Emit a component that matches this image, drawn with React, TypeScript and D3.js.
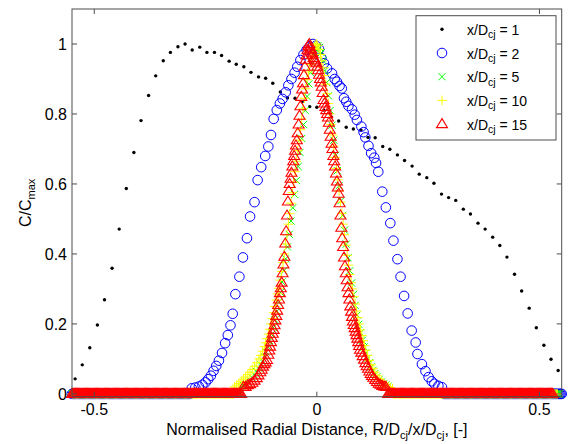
import { useMemo } from "react";
import * as d3 from "d3";

const width = 570;
const height = 444;
const M = { left: 72, top: 9, right: 8.3, bottom: 47.3 };
const FONT = "'Liberation Sans', Arial, Helvetica, sans-serif";

const stations = [1, 2, 5, 10, 15];
const colors = ["#000000", "#0000ff", "#00ff00", "#ffff00", "#ff0000"];
const xTicks = [-0.5, 0, 0.5];
const yTicks = [0, 0.2, 0.4, 0.6, 0.8, 1];

// x/Dcj = 1
const xd1: [number, number][] = [
  [-0.543, 0.043], [-0.527, 0.083], [-0.51, 0.132], [-0.493, 0.197], [-0.477, 0.269], [-0.46, 0.359],
  [-0.444, 0.471], [-0.428, 0.587], [-0.411, 0.69], [-0.395, 0.781], [-0.378, 0.853], [-0.362, 0.909],
  [-0.345, 0.952], [-0.329, 0.976], [-0.312, 0.992], [-0.296, 1.0], [-0.28, 0.983], [-0.263, 0.991],
  [-0.247, 0.976], [-0.23, 0.976], [-0.214, 0.967], [-0.197, 0.951], [-0.181, 0.942], [-0.164, 0.935],
  [-0.148, 0.919], [-0.131, 0.906], [-0.115, 0.902], [-0.099, 0.888], [-0.082, 0.863], [-0.066, 0.846],
  [-0.049, 0.845], [-0.033, 0.835], [-0.016, 0.821], [0.0, 0.819], [0.016, 0.811], [0.033, 0.791],
  [0.049, 0.78], [0.066, 0.762], [0.082, 0.757], [0.099, 0.754], [0.115, 0.733], [0.131, 0.732],
  [0.148, 0.707], [0.164, 0.699], [0.181, 0.683], [0.197, 0.667], [0.214, 0.651], [0.23, 0.628],
  [0.247, 0.618], [0.263, 0.602], [0.28, 0.571], [0.296, 0.561], [0.312, 0.553], [0.329, 0.528],
  [0.345, 0.514], [0.362, 0.488], [0.378, 0.471], [0.395, 0.448], [0.411, 0.424], [0.427, 0.391],
  [0.444, 0.342], [0.46, 0.294], [0.477, 0.245], [0.493, 0.189], [0.51, 0.139], [0.526, 0.099],
  [0.542, 0.067],
];

// x/Dcj = 2
const xd2: [number, number][] = [
  [-0.281, 0.016], [-0.273, 0.018], [-0.265, 0.021], [-0.257, 0.026], [-0.25, 0.033], [-0.244, 0.042],
  [-0.238, 0.052], [-0.232, 0.066], [-0.226, 0.08], [-0.22, 0.095], [-0.213, 0.117], [-0.206, 0.145],
  [-0.2, 0.168], [-0.194, 0.196], [-0.189, 0.229], [-0.183, 0.285], [-0.174, 0.335], [-0.166, 0.39],
  [-0.157, 0.445], [-0.15, 0.507], [-0.14, 0.548], [-0.133, 0.611], [-0.125, 0.648], [-0.116, 0.68],
  [-0.109, 0.707], [-0.103, 0.74], [-0.097, 0.786], [-0.09, 0.811], [-0.083, 0.83], [-0.077, 0.843],
  [-0.07, 0.862], [-0.064, 0.882], [-0.057, 0.9], [-0.05, 0.918], [-0.044, 0.935], [-0.037, 0.954],
  [-0.03, 0.97], [-0.023, 0.983], [-0.016, 0.993], [-0.009, 1.0], [-0.002, 0.995], [0.005, 0.985],
  [0.01, 0.96], [0.016, 0.945], [0.023, 0.93], [0.034, 0.916], [0.04, 0.9], [0.045, 0.892],
  [0.051, 0.88], [0.056, 0.873], [0.061, 0.845], [0.066, 0.835], [0.071, 0.823], [0.079, 0.813],
  [0.085, 0.798], [0.09, 0.783], [0.1, 0.764], [0.105, 0.748], [0.109, 0.733], [0.116, 0.709],
  [0.122, 0.688], [0.129, 0.675], [0.133, 0.66], [0.138, 0.635], [0.147, 0.578], [0.155, 0.533],
  [0.165, 0.488], [0.172, 0.438], [0.181, 0.385], [0.188, 0.335], [0.196, 0.28], [0.204, 0.23],
  [0.213, 0.181], [0.222, 0.147], [0.226, 0.114], [0.236, 0.085], [0.244, 0.065], [0.251, 0.048],
  [0.258, 0.036], [0.264, 0.029], [0.273, 0.023], [0.281, 0.019],
];

// x/Dcj = 5
const xd5: [number, number][] = [
  [-0.17, 0.02], [-0.165, 0.024], [-0.16, 0.028], [-0.155, 0.033], [-0.15, 0.039], [-0.145, 0.046],
  [-0.14, 0.054], [-0.135, 0.063], [-0.13, 0.073], [-0.126, 0.083], [-0.122, 0.094], [-0.118, 0.106],
  [-0.114, 0.12], [-0.11, 0.135], [-0.106, 0.152], [-0.102, 0.17], [-0.098, 0.19], [-0.094, 0.212],
  [-0.09, 0.236], [-0.086, 0.262], [-0.082, 0.29], [-0.078, 0.32], [-0.074, 0.352], [-0.07, 0.386],
  [-0.066, 0.42], [-0.062, 0.456], [-0.058, 0.494], [-0.054, 0.532], [-0.05, 0.57], [-0.046, 0.61],
  [-0.042, 0.65], [-0.038, 0.69], [-0.034, 0.73], [-0.03, 0.77], [-0.026, 0.81], [-0.022, 0.85],
  [-0.018, 0.886], [-0.014, 0.918], [-0.01, 0.946], [-0.006, 0.968], [-0.002, 0.985], [0.002, 0.995],
  [0.006, 0.99], [0.01, 0.975], [0.014, 0.952], [0.018, 0.924], [0.022, 0.89], [0.026, 0.852],
  [0.03, 0.81], [0.034, 0.768], [0.038, 0.725], [0.042, 0.682], [0.046, 0.638], [0.05, 0.595],
  [0.054, 0.552], [0.058, 0.51], [0.062, 0.468], [0.066, 0.428], [0.07, 0.389], [0.074, 0.352],
  [0.078, 0.317], [0.082, 0.284], [0.086, 0.253], [0.09, 0.225], [0.094, 0.199], [0.098, 0.175],
  [0.102, 0.153], [0.106, 0.134], [0.11, 0.117], [0.114, 0.102], [0.118, 0.089], [0.122, 0.077],
  [0.126, 0.067], [0.13, 0.058], [0.135, 0.049], [0.14, 0.041], [0.145, 0.034], [0.15, 0.029],
  [0.155, 0.025], [0.16, 0.022],
];

// x/Dcj = 10
const xd10: [number, number][] = [
  [-0.185, 0.02], [-0.18, 0.025], [-0.175, 0.03], [-0.17, 0.036], [-0.165, 0.042], [-0.16, 0.048],
  [-0.155, 0.055], [-0.15, 0.062], [-0.145, 0.07], [-0.14, 0.079], [-0.135, 0.089], [-0.13, 0.1],
  [-0.126, 0.11], [-0.122, 0.122], [-0.118, 0.135], [-0.115, 0.146], [-0.112, 0.158], [-0.109, 0.171],
  [-0.106, 0.185], [-0.103, 0.2], [-0.1, 0.215], [-0.097, 0.232], [-0.094, 0.25], [-0.091, 0.268],
  [-0.088, 0.286], [-0.085, 0.302],
  [-0.082, 0.325], [-0.079, 0.35], [-0.076, 0.375], [-0.073, 0.4], [-0.07, 0.428], [-0.067, 0.455],
  [-0.064, 0.485], [-0.061, 0.515], [-0.058, 0.545], [-0.055, 0.575], [-0.052, 0.605], [-0.049, 0.635],
  [-0.046, 0.665], [-0.043, 0.695], [-0.04, 0.725], [-0.037, 0.755], [-0.034, 0.785], [-0.031, 0.815],
  [-0.028, 0.845], [-0.025, 0.872], [-0.022, 0.898], [-0.019, 0.92], [-0.016, 0.942], [-0.013, 0.96],
  [-0.01, 0.975], [-0.007, 0.988], [-0.004, 0.997], [-0.001, 1.0], [0.002, 0.995], [0.005, 0.985],
  [0.008, 0.97], [0.011, 0.952], [0.014, 0.932], [0.017, 0.91], [0.02, 0.885], [0.023, 0.858],
  [0.026, 0.83], [0.029, 0.8], [0.032, 0.77], [0.035, 0.74], [0.038, 0.708], [0.041, 0.676],
  [0.044, 0.644], [0.047, 0.612], [0.05, 0.58], [0.053, 0.548], [0.056, 0.516], [0.059, 0.485],
  [0.062, 0.455], [0.065, 0.425], [0.068, 0.396], [0.071, 0.368], [0.074, 0.341], [0.077, 0.318],
  [0.08, 0.3], [0.083, 0.278], [0.086, 0.257], [0.089, 0.237], [0.092, 0.218], [0.095, 0.2],
  [0.098, 0.183], [0.101, 0.167], [0.104, 0.152], [0.107, 0.138], [0.11, 0.125], [0.114, 0.11],
  [0.118, 0.096], [0.122, 0.083], [0.126, 0.072], [0.13, 0.062], [0.135, 0.052], [0.14, 0.043],
  [0.145, 0.036], [0.15, 0.03], [0.155, 0.025], [0.16, 0.021], [0.165, 0.018], [0.17, 0.015],
];

// x/Dcj = 15
const xd15: [number, number][] = [
  [-0.165, 0.02], [-0.16, 0.02], [-0.155, 0.025], [-0.15, 0.028], [-0.145, 0.032], [-0.14, 0.038],
  [-0.135, 0.045], [-0.131, 0.053], [-0.127, 0.062], [-0.124, 0.069], [-0.121, 0.078], [-0.118, 0.085],
  [-0.115, 0.09], [-0.112, 0.097], [-0.109, 0.112], [-0.107, 0.124], [-0.105, 0.135], [-0.103, 0.148],
  [-0.101, 0.16], [-0.099, 0.172], [-0.097, 0.183], [-0.095, 0.196], [-0.093, 0.21], [-0.091, 0.223],
  [-0.089, 0.238], [-0.087, 0.254], [-0.085, 0.27], [-0.083, 0.288], [-0.081, 0.302], [-0.079, 0.318],
  [-0.077, 0.345], [-0.075, 0.37], [-0.073, 0.392], [-0.071, 0.43], [-0.069, 0.465], [-0.067, 0.51],
  [-0.065, 0.55], [-0.063, 0.58], [-0.061, 0.6], [-0.059, 0.615], [-0.057, 0.632], [-0.055, 0.65],
  [-0.053, 0.665], [-0.051, 0.68], [-0.049, 0.695], [-0.047, 0.71], [-0.045, 0.725], [-0.043, 0.745],
  [-0.041, 0.77], [-0.039, 0.795], [-0.037, 0.822], [-0.035, 0.849], [-0.033, 0.87], [-0.031, 0.888],
  [-0.029, 0.911], [-0.027, 0.935], [-0.025, 0.955], [-0.023, 0.968], [-0.021, 0.982], [-0.019, 0.995],
  [-0.017, 1.0], [-0.015, 0.99], [-0.013, 0.985], [-0.011, 0.975], [-0.009, 0.97], [-0.007, 0.96],
  [-0.005, 0.955], [-0.003, 0.95], [-0.001, 0.945], [0.001, 0.935], [0.003, 0.925], [0.005, 0.912],
  [0.007, 0.9], [0.009, 0.89], [0.011, 0.878], [0.013, 0.86], [0.015, 0.84], [0.017, 0.83],
  [0.019, 0.82], [0.021, 0.811], [0.023, 0.8], [0.025, 0.79], [0.027, 0.775], [0.029, 0.755],
  [0.031, 0.735], [0.033, 0.715], [0.035, 0.7], [0.037, 0.68], [0.039, 0.665], [0.041, 0.65],
  [0.043, 0.63], [0.045, 0.607], [0.047, 0.59], [0.049, 0.572], [0.051, 0.545], [0.053, 0.51],
  [0.055, 0.475], [0.057, 0.445], [0.059, 0.42], [0.061, 0.39], [0.063, 0.365], [0.065, 0.345],
  [0.067, 0.325], [0.069, 0.305], [0.071, 0.288], [0.073, 0.27], [0.075, 0.25], [0.077, 0.235],
  [0.079, 0.22], [0.081, 0.207], [0.083, 0.197], [0.085, 0.188], [0.087, 0.178], [0.089, 0.168],
  [0.091, 0.158], [0.093, 0.148], [0.095, 0.137], [0.097, 0.126], [0.1, 0.118], [0.103, 0.108],
  [0.106, 0.098], [0.109, 0.088], [0.112, 0.079], [0.115, 0.072], [0.118, 0.064], [0.121, 0.057],
  [0.124, 0.051], [0.127, 0.046], [0.131, 0.04], [0.135, 0.034], [0.139, 0.029], [0.143, 0.026],
  [0.147, 0.023], [0.151, 0.021], [0.155, 0.02],
];

// radial positions where C/Cmax reads 0 (outside the jet)
const zeroLeftR = [
  -0.55, -0.5475, -0.545, -0.5425, -0.54, -0.5375, -0.535, -0.5325, -0.53, -0.5275,
  -0.525, -0.5225, -0.52, -0.5175, -0.515, -0.5125, -0.51, -0.5075, -0.505, -0.5025,
  -0.5, -0.4975, -0.495, -0.4925, -0.49, -0.4875, -0.485, -0.4825, -0.48, -0.4775,
  -0.475, -0.4725, -0.47, -0.4675, -0.465, -0.4625, -0.46, -0.4575, -0.455, -0.4525,
  -0.45, -0.4475, -0.445, -0.4425, -0.44, -0.4375, -0.435, -0.4325, -0.43, -0.4275,
  -0.425, -0.4225, -0.42, -0.4175, -0.415, -0.4125, -0.41, -0.4075, -0.405, -0.4025,
  -0.4, -0.3975, -0.395, -0.3925, -0.39, -0.3875, -0.385, -0.3825, -0.38, -0.3775,
  -0.375, -0.3725, -0.37, -0.3675, -0.365, -0.3625, -0.36, -0.3575, -0.355, -0.3525,
  -0.35, -0.3475, -0.345, -0.3425, -0.34, -0.3375, -0.335, -0.3325, -0.33, -0.3275,
  -0.325, -0.3225, -0.32, -0.3175, -0.315, -0.3125, -0.31, -0.3075, -0.305, -0.3025,
  -0.3, -0.2975, -0.295, -0.2925, -0.29, -0.2875, -0.285, -0.2825, -0.28, -0.2775,
  -0.275, -0.2725, -0.27, -0.2675, -0.265, -0.2625, -0.26, -0.2575, -0.255, -0.2525,
  -0.25, -0.2475, -0.245, -0.2425, -0.24, -0.2375, -0.235, -0.2325, -0.23, -0.2275,
  -0.225, -0.2225, -0.22, -0.2175, -0.215, -0.2125, -0.21, -0.2075, -0.205, -0.2025,
  -0.2, -0.1975, -0.195, -0.1925, -0.19, -0.1875, -0.185, -0.1825, -0.18, -0.1775,
  -0.175, -0.1725, -0.17,
];
const zeroRightR = [
  0.16, 0.1625, 0.165, 0.1675, 0.17, 0.1725, 0.175, 0.1775, 0.18, 0.1825,
  0.185, 0.1875, 0.19, 0.1925, 0.195, 0.1975, 0.2, 0.2025, 0.205, 0.2075,
  0.21, 0.2125, 0.215, 0.2175, 0.22, 0.2225, 0.225, 0.2275, 0.23, 0.2325,
  0.235, 0.2375, 0.24, 0.2425, 0.245, 0.2475, 0.25, 0.2525, 0.255, 0.2575,
  0.26, 0.2625, 0.265, 0.2675, 0.27, 0.2725, 0.275, 0.2775, 0.28, 0.2825,
  0.285, 0.2875, 0.29, 0.2925, 0.295, 0.2975, 0.3, 0.3025, 0.305, 0.3075,
  0.31, 0.3125, 0.315, 0.3175, 0.32, 0.3225, 0.325, 0.3275, 0.33, 0.3325,
  0.335, 0.3375, 0.34, 0.3425, 0.345, 0.3475, 0.35, 0.3525, 0.355, 0.3575,
  0.36, 0.3625, 0.365, 0.3675, 0.37, 0.3725, 0.375, 0.3775, 0.38, 0.3825,
  0.385, 0.3875, 0.39, 0.3925, 0.395, 0.3975, 0.4, 0.4025, 0.405, 0.4075,
  0.41, 0.4125, 0.415, 0.4175, 0.42, 0.4225, 0.425, 0.4275, 0.43, 0.4325,
  0.435, 0.4375, 0.44, 0.4425, 0.445, 0.4475, 0.45, 0.4525, 0.455, 0.4575,
  0.46, 0.4625, 0.465, 0.4675, 0.47, 0.4725, 0.475, 0.4775, 0.48, 0.4825,
  0.485, 0.4875, 0.49, 0.4925, 0.495, 0.4975, 0.5, 0.5025, 0.505, 0.5075,
  0.51, 0.5125, 0.515, 0.5175, 0.52, 0.5225, 0.525, 0.5275, 0.53, 0.5325,
  0.535, 0.5375, 0.54, 0.5425, 0.545, 0.5475, 0.55,
];
// last measured radial position of each station (x/Dcj = 2, 5, 10, 15)
const outerEnd = [0.55, 0.545, 0.54, 0.53];

const Marker = ({ kind, x, y, color }: { kind: number; x: number; y: number; color: string }) => {
  if (kind === 0) return <circle cx={x} cy={y} r={1.7} fill={color} />;
  if (kind === 1) return <circle cx={x} cy={y} r={4.8} fill="none" stroke={color} strokeWidth={1} />;
  if (kind === 2) {
    const s = 3.6;
    return (
      <path d={`M${x - s},${y - s}L${x + s},${y + s}M${x - s},${y + s}L${x + s},${y - s}`} stroke={color} strokeWidth={1} />
    );
  }
  if (kind === 3) {
    const s = 4.8;
    return <path d={`M${x - s},${y}L${x + s},${y}M${x},${y - s}L${x},${y + s}`} stroke={color} strokeWidth={1} />;
  }
  return (
    <path d={`M${x},${y - 5.5}L${x + 5.5},${y + 3.5}L${x - 5.5},${y + 3.5}Z`} fill="none" stroke={color} strokeWidth={1.1} />
  );
};

export default function App() {
  const x = d3.scaleLinear().domain([-0.55, 0.55]).range([M.left, width - M.right]);
  const y = d3.scaleLinear().domain([-0.008, 1.1]).range([height - M.bottom, M.top]);

  const series = useMemo(() => {
    const profiles = [xd2, xd5, xd10, xd15];
    const withTails = profiles.map((p, i) => {
      const first = p[0][0];
      const last = p[p.length - 1][0];
      const left = zeroLeftR.filter((r) => r < first - 0.002).map((r) => [r, 0] as [number, number]);
      const right = zeroRightR
        .filter((r) => r > last + 0.002 && r <= outerEnd[i] + 1e-9)
        .map((r) => [r, 0] as [number, number]);
      return [...left, ...p, ...right];
    });
    return [xd1, ...withTails];
  }, []);

  const x0 = M.left;
  const x1 = width - M.right;
  const y0 = height - M.bottom;
  const y1 = M.top;
  const axisColor = "#4d4d4d";

  return (
    <svg width={width} height={height} style={{ position: "absolute", left: 0, top: 0, background: "#fff" }}>
      <rect x={0} y={0} width={width} height={height} fill="#fff" />
      {/* data */}
      {series.map((pts, si) => (
        <g key={si}>
          {pts.map((d, j) => (
            <Marker key={j} kind={si} x={x(d[0])} y={y(d[1])} color={colors[si]} />
          ))}
        </g>
      ))}

      {/* axes box */}
      <rect x={x0} y={y1} width={x1 - x0} height={y0 - y1} fill="none" stroke={axisColor} strokeWidth={1} />
      {xTicks.map((t) => (
        <g key={t}>
          <line x1={x(t)} x2={x(t)} y1={y0} y2={y0 - 5} stroke={axisColor} />
          <line x1={x(t)} x2={x(t)} y1={y1} y2={y1 + 5} stroke={axisColor} />
          <text x={x(t)} y={415} textAnchor="middle" fontFamily={FONT} fontSize={16} fill="#000">
            {String(t)}
          </text>
        </g>
      ))}
      {yTicks.map((t) => (
        <g key={t}>
          <line x1={x0} x2={x0 + 5} y1={y(t)} y2={y(t)} stroke={axisColor} />
          <line x1={x1} x2={x1 - 5} y1={y(t)} y2={y(t)} stroke={axisColor} />
          <text x={67} y={y(t) + 5.8} textAnchor="end" fontFamily={FONT} fontSize={16} fill="#000">
            {String(t)}
          </text>
        </g>
      ))}

      {/* axis labels */}
      <text x={(x0 + x1) / 2} y={435} textAnchor="middle" fontFamily={FONT} fontSize={16} fill="#000">
        Normalised Radial Distance, R/D
        <tspan fontSize={11} dy={4}>cj</tspan>
        <tspan dy={-4}>/x/D</tspan>
        <tspan fontSize={11} dy={4}>cj</tspan>
        <tspan dy={-4}>, [-]</tspan>
      </text>
      <text
        transform={`translate(31, ${(y0 + y1) / 2}) rotate(-90)`}
        textAnchor="middle"
        fontFamily={FONT}
        fontSize={16}
        fill="#000"
      >
        C/C
        <tspan fontSize={11} dy={4}>max</tspan>
      </text>

      {/* legend */}
      <g>
        <rect x={416} y={15.7} width={140} height={124.3} fill="#fff" stroke={axisColor} strokeWidth={1} />
        {stations.map((s, i) => {
          const cy = 29.3 + i * 23.7;
          return (
            <g key={s}>
              <Marker kind={i} x={442} y={cy} color={colors[i]} />
              <text x={467} y={cy + 5.5} fontFamily={FONT} fontSize={14} fill="#000">
                x/D
                <tspan fontSize={10.5} dy={3.5}>cj</tspan>
                <tspan dy={-3.5}>{` = ${s}`}</tspan>
              </text>
            </g>
          );
        })}
      </g>
    </svg>
  );
}
